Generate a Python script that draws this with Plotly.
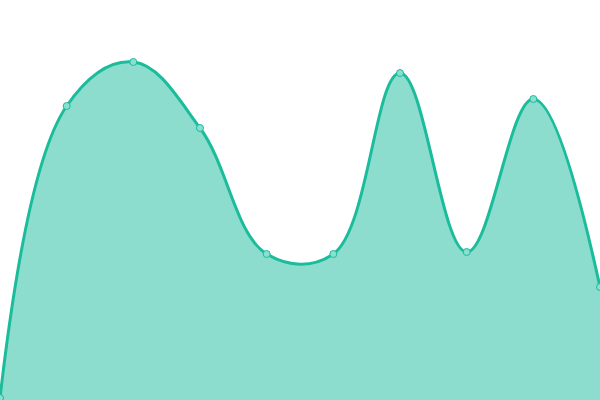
import plotly.graph_objects as go

x_vals = [0, 1, 2, 3, 4, 5, 6, 7, 8, 9]
y_vals = [0.5, 73.5, 84.5, 68, 36.5, 36.5, 81.75, 37, 75.25, 28.25]

fig = go.Figure()
fig.add_trace(go.Scatter(
    x=x_vals, y=y_vals,
    mode="lines+markers",
    line=dict(shape="spline", smoothing=1.1, color="#1abc9c", width=3),
    fill="tozeroy",
    fillcolor="rgba(26,188,156,0.5)",
    marker=dict(size=7, color="#8ae0d0", line=dict(color="#1abc9c", width=1)),
    cliponaxis=False,
))
fig.update_layout(
    width=600, height=400,
    margin=dict(l=0, r=0, t=0, b=0),
    paper_bgcolor="white", plot_bgcolor="white",
    showlegend=False,
    xaxis=dict(visible=False, range=[0, 9]),
    yaxis=dict(visible=False, range=[0, 100]),
)
fig.write_html(
    "out.html",
    config={"displayModeBar": False},
    post_script="document.body.style.margin='0';document.body.style.overflow='hidden';",
)
